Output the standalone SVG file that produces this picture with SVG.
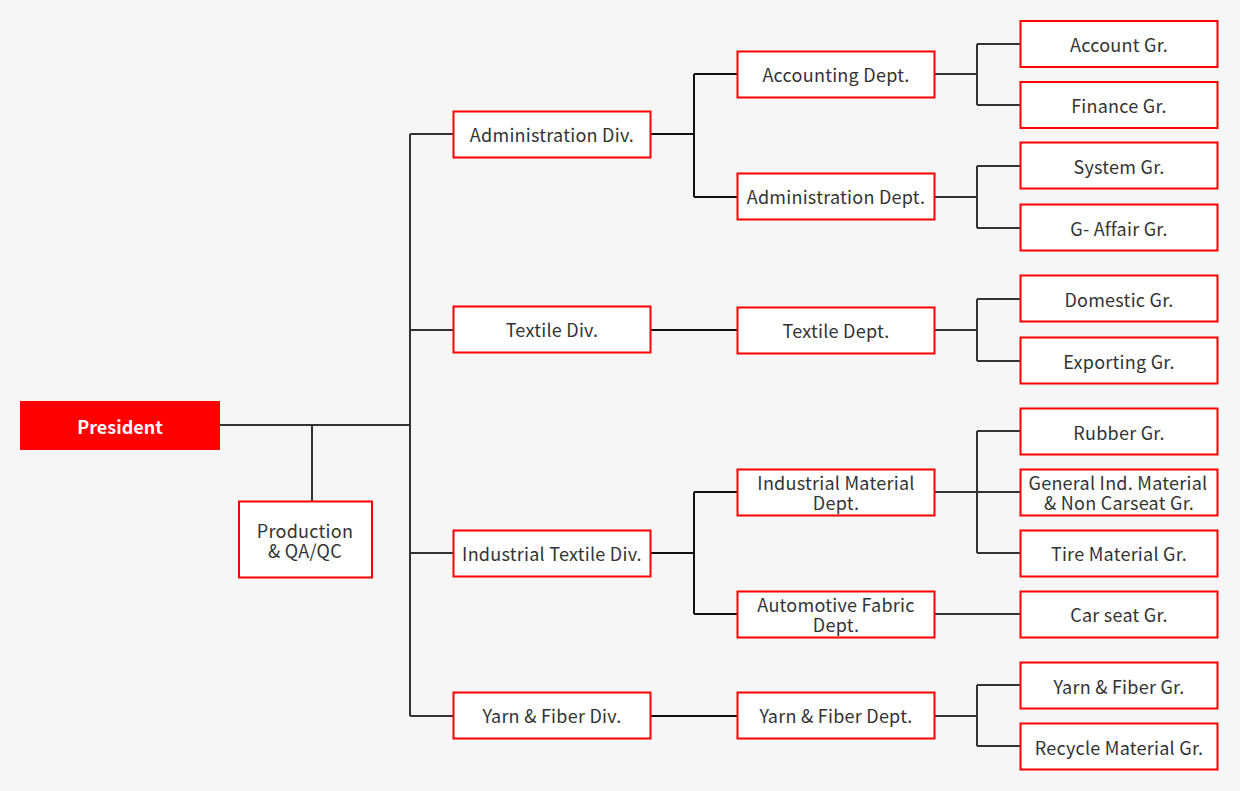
<svg xmlns="http://www.w3.org/2000/svg" width="1240" height="791" viewBox="0 0 1240 791">
<style>
.bg{fill:#f6f6f6}
.box{fill:#ffffff;stroke:#ff0000;stroke-width:2}
.top{fill:#ff0000}
.t{font-family:"Noto Sans CJK KR","Noto Sans",sans-serif;font-size:18px;letter-spacing:0.25px;fill:#333333;text-anchor:middle;dominant-baseline:central}
.tp{font-family:"Noto Sans CJK KR","Noto Sans",sans-serif;font-size:18px;font-weight:bold;fill:#ffffff;text-anchor:middle;dominant-baseline:central}
.ln{fill:none;stroke:#333333;stroke-width:2}
.ln2{fill:none;stroke:#111111;stroke-width:2}
</style>
<rect class="bg" x="0" y="0" width="1240" height="791"/>
<g id="connectors">
<path class="ln" d="M220,425H410M312,425V501M410,134V716M410,134H453M410,330H453M410,553H453M410,716H453"/>
<path class="ln2" d="M651,134H694M694,74V197M694,74H737M694,197H737M651,330H737M651,553H694M694,492V614M694,492H737M694,614H737M651,716H737"/>
<path class="ln" d="M935,74H977M977,44V105M977,44H1020M977,105H1020"/>
<path class="ln" d="M935,197H977M977,166V228M977,166H1020M977,228H1020"/>
<path class="ln" d="M935,330H977M977,299V361M977,299H1020M977,361H1020"/>
<path class="ln" d="M935,492H1020M977,431V553M977,431H1020M977,553H1020"/>
<path class="ln" d="M935,614H1020"/>
<path class="ln" d="M935,716H977M977,685V746M977,685H1020M977,746H1020"/>
</g>
<g id="president"><rect class="top" x="20" y="401" width="200" height="49"/><text class="tp" x="120" y="426">President</text></g>
<g id="production"><rect class="box" x="239" y="501.5" width="133" height="76"/><text class="t" x="305" y="530">Production<tspan x="305" dy="20">&amp; QA/QC</tspan></text></g>
<g id="div-admin"><rect class="box" x="453.5" y="111.5" width="197" height="46"/><text class="t" x="552" y="134">Administration Div.</text></g>
<g id="div-textile"><rect class="box" x="453.5" y="306.5" width="197" height="46"/><text class="t" x="552" y="329">Textile Div.</text></g>
<g id="div-indtextile"><rect class="box" x="453.5" y="530.5" width="197" height="46"/><text class="t" x="552" y="553">Industrial Textile Div.</text></g>
<g id="div-yarn"><rect class="box" x="453.5" y="692.5" width="197" height="46"/><text class="t" x="552" y="715">Yarn &amp; Fiber Div.</text></g>
<g id="dept-accounting"><rect class="box" x="737.5" y="51.5" width="197" height="46"/><text class="t" x="836" y="74">Accounting Dept.</text></g>
<g id="dept-admin"><rect class="box" x="737.5" y="173.5" width="197" height="46"/><text class="t" x="836" y="196">Administration Dept.</text></g>
<g id="dept-textile"><rect class="box" x="737.5" y="307.5" width="197" height="46"/><text class="t" x="836" y="330">Textile Dept.</text></g>
<g id="dept-indmat"><rect class="box" x="737.5" y="469.5" width="197" height="46"/><text class="t" x="836" y="482">Industrial Material<tspan x="836" dy="20">Dept.</tspan></text></g>
<g id="dept-auto"><rect class="box" x="737.5" y="591.5" width="197" height="46"/><text class="t" x="836" y="604">Automotive Fabric<tspan x="836" dy="20">Dept.</tspan></text></g>
<g id="dept-yarn"><rect class="box" x="737.5" y="692.5" width="197" height="46"/><text class="t" x="836" y="715">Yarn &amp; Fiber Dept.</text></g>
<g id="gr-account"><rect class="box" x="1020.5" y="21" width="197" height="46"/><text class="t" x="1119" y="44">Account Gr.</text></g>
<g id="gr-finance"><rect class="box" x="1020.5" y="82" width="197" height="46"/><text class="t" x="1119" y="105">Finance Gr.</text></g>
<g id="gr-system"><rect class="box" x="1020.5" y="142.5" width="197" height="46"/><text class="t" x="1119" y="166">System Gr.</text></g>
<g id="gr-gaffair"><rect class="box" x="1020.5" y="204.5" width="197" height="46"/><text class="t" x="1119" y="228">G- Affair Gr.</text></g>
<g id="gr-domestic"><rect class="box" x="1020.5" y="275.5" width="197" height="46"/><text class="t" x="1119" y="299">Domestic Gr.</text></g>
<g id="gr-exporting"><rect class="box" x="1020.5" y="337.5" width="197" height="46"/><text class="t" x="1119" y="361">Exporting Gr.</text></g>
<g id="gr-rubber"><rect class="box" x="1020.5" y="408.5" width="197" height="46"/><text class="t" x="1119" y="432">Rubber Gr.</text></g>
<g id="gr-general"><rect class="box" x="1020.5" y="469.5" width="197" height="46"/><text class="t" x="1118" y="482">General Ind. Material<tspan x="1119" dy="20">&amp; Non Carseat Gr.</tspan></text></g>
<g id="gr-tire"><rect class="box" x="1020.5" y="530.5" width="197" height="46"/><text class="t" x="1119" y="553">Tire Material Gr.</text></g>
<g id="gr-carseat"><rect class="box" x="1020.5" y="591.5" width="197" height="46"/><text class="t" x="1119" y="614">Car seat Gr.</text></g>
<g id="gr-yarn"><rect class="box" x="1020.5" y="662.5" width="197" height="46"/><text class="t" x="1119" y="686">Yarn &amp; Fiber Gr.</text></g>
<g id="gr-recycle"><rect class="box" x="1020.5" y="723.5" width="197" height="46"/><text class="t" x="1119" y="747">Recycle Material Gr.</text></g>
</svg>
